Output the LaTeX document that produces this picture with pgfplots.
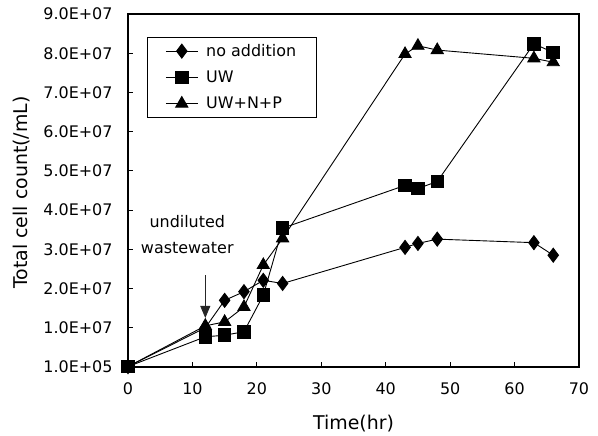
\documentclass[border=0pt]{standalone}
\usepackage{fontspec}
\setmainfont{DejaVu Sans}
\usepackage{pgfplots}
\pgfplotsset{compat=1.18}
\usetikzlibrary{arrows.meta}
\begin{document}
\begin{tikzpicture}
\begin{axis}[
  scale only axis, width=451bp, height=353bp,
  xmin=0, xmax=70, ymin=0, ymax=9,
  clip=false,
  xtick={0,10,20,30,40,50,60,70},
  ytick={0.01,1,2,3,4,5,6,7,8,9},
  yticklabels={\mbox{1.0E+05},\mbox{1.0E+07},\mbox{2.0E+07},\mbox{3.0E+07},\mbox{4.0E+07},\mbox{5.0E+07},\mbox{6.0E+07},\mbox{7.0E+07},\mbox{8.0E+07},\mbox{9.0E+07}},
  tick align=inside, xtick pos=left, ytick pos=left,
  major tick length=5bp,
  tick style={line width=1bp, black},
  axis line style={line width=1.2bp},
  ticklabel style={font=\fontsize{16}{19}\selectfont},
  /pgf/number format/assume math mode=true,
  yticklabel style={xshift=-12bp},
  xticklabel style={yshift=-12bp},
  xlabel={Time(hr)}, ylabel={Total cell count(/mL)},
  label style={font=\fontsize{19}{23}\selectfont},
  xlabel style={at={(axis description cs:0.5,-0.178)}, anchor=base},
  ylabel style={at={(axis description cs:-0.235,0.494)}, anchor=center},
  legend style={at={(rel axis cs:0.042,0.935)}, anchor=north west,
    font=\fontsize{16}{19}\selectfont, draw=black, line width=0.8bp,
    inner xsep=18bp, inner ysep=5bp, row sep=9bp,
    /tikz/every odd column/.append style={column sep=6bp}},
  legend cell align=left,
  legend image code/.code={\draw[mark repeat=2,mark phase=2] plot coordinates {(0bp,0bp)(16bp,0bp)(32bp,0bp)};},
]
\addplot[black, line width=0.9bp, mark=diamond*, mark size=7bp, mark options={solid,fill=black}] coordinates {
(0,0.01) (12,1.00) (15,1.70) (18,1.92) (21,2.21) (24,2.13) (43,3.05) (45,3.15) (48,3.26) (63,3.17) (66,2.85)};
\addlegendentry{no addition}
\addplot[black, line width=0.9bp, mark=square*, mark size=6.3bp, mark options={solid,fill=black}] coordinates {
(0,0.01) (12,0.77) (15,0.81) (18,0.90) (21,1.83) (24,3.54) (43,4.63) (45,4.55) (48,4.73) (63,8.24) (66,8.02)};
\addlegendentry{UW}
\addplot[black, line width=0.9bp, mark=triangle*, mark size=7bp, mark options={solid,fill=black}] coordinates {
(0,0.01) (12,1.05) (15,1.15) (18,1.53) (21,2.60) (24,3.28) (43,7.98) (45,8.19) (48,8.08) (63,7.87) (66,7.77)};
\addlegendentry{UW+N+P}
\draw[black!85, line width=0.8bp, -{Triangle[width=10bp,length=12bp]}] (axis cs:12,2.34) -- (axis cs:12,1.25);
\node[align=center, font=\fontsize{16}{26}\selectfont] at (axis cs:9.2,3.38) {undiluted\\wastewater};
\end{axis}
\pgfresetboundingbox
\path[use as bounding box] (current axis.south west) ++(-128bp,-69bp) rectangle ++(598bp,436bp);
\end{tikzpicture}
\end{document}
